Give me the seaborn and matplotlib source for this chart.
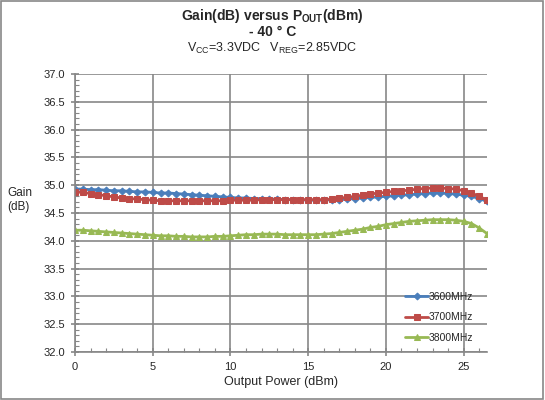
import numpy as np
import pandas as pd
import matplotlib
matplotlib.use("Agg")
import matplotlib.pyplot as plt
import seaborn as sns
from matplotlib.ticker import MultipleLocator

sns.set_theme(style="white")
plt.rcParams['font.family'] = ['Liberation Sans', 'DejaVu Sans']
plt.rcParams['mathtext.fontset'] = 'custom'
plt.rcParams['mathtext.rm'] = 'Liberation Sans'
plt.rcParams['mathtext.bf'] = 'Liberation Sans:bold'

pout = [i * 0.5 for i in range(54)]
gain_3600 = [34.93, 34.93, 34.92, 34.92, 34.91, 34.90, 34.90, 34.89, 34.88, 34.88,
             34.87, 34.86, 34.86, 34.85, 34.84, 34.83, 34.82, 34.81, 34.80, 34.79,
             34.78, 34.77, 34.77, 34.76, 34.76, 34.75, 34.75, 34.74, 34.74, 34.74,
             34.73, 34.73, 34.73, 34.74, 34.74, 34.75, 34.76, 34.77, 34.78, 34.79,
             34.80, 34.81, 34.82, 34.83, 34.84, 34.85, 34.86, 34.86, 34.85, 34.84,
             34.82, 34.80, 34.76, 34.71]
gain_3700 = [34.88, 34.87, 34.85, 34.83, 34.81, 34.79, 34.77, 34.76, 34.75, 34.74,
             34.73, 34.72, 34.72, 34.72, 34.72, 34.72, 34.72, 34.72, 34.72, 34.72,
             34.73, 34.73, 34.73, 34.73, 34.74, 34.74, 34.74, 34.74, 34.74, 34.74,
             34.74, 34.74, 34.74, 34.75, 34.77, 34.78, 34.80, 34.82, 34.84, 34.86,
             34.87, 34.89, 34.90, 34.91, 34.93, 34.94, 34.95, 34.95, 34.94, 34.93,
             34.90, 34.86, 34.80, 34.73]
gain_3800 = [34.19, 34.19, 34.18, 34.17, 34.16, 34.15, 34.14, 34.13, 34.12, 34.11,
             34.10, 34.09, 34.09, 34.08, 34.08, 34.07, 34.07, 34.07, 34.08, 34.08,
             34.09, 34.10, 34.11, 34.11, 34.12, 34.12, 34.12, 34.11, 34.11, 34.11,
             34.11, 34.11, 34.12, 34.13, 34.15, 34.17, 34.19, 34.21, 34.24, 34.26,
             34.29, 34.31, 34.33, 34.35, 34.36, 34.37, 34.38, 34.38, 34.38, 34.37,
             34.35, 34.31, 34.23, 34.13]
series_names = ["3600MHz", "3700MHz", "3800MHz"]
colors = ["#4a7ebb", "#be4b48", "#98b954"]
markers = ["D", "s", "^"]
msizes = [3.5, 5, 5]

fig = plt.figure(figsize=(5.45, 4.0), dpi=100)
ax = fig.add_axes([75/545, 1-352/400, (487-75)/545, (352-74)/400])

for name, vals, c, m, ms in zip(series_names, [gain_3600, gain_3700, gain_3800], colors, markers, msizes):
    df = pd.DataFrame({"x": pout, "y": vals})
    sns.lineplot(data=df, x="x", y="y", ax=ax, color=c, marker=m, markersize=ms,
                 markeredgecolor=c, linewidth=2, label=name)

ax.set_xlim(0, 26.5)
ax.set_ylim(32.0, 37.0)
ax.xaxis.set_major_locator(MultipleLocator(5))
ax.xaxis.set_minor_locator(MultipleLocator(1))
ax.yaxis.set_major_locator(MultipleLocator(0.5))
ax.yaxis.set_minor_locator(MultipleLocator(0.1))
ax.set_yticklabels([f"{v:.1f}" for v in ax.get_yticks()])
ax.grid(True, which="major", color="#878787", linewidth=1.2)
for s in ["top", "right"]:
    ax.spines[s].set_visible(False)
for s in ["left", "bottom"]:
    ax.spines[s].set_color("#878787")
    ax.spines[s].set_linewidth(1.2)
ax.tick_params(axis="both", which="major", direction="inout", length=6, width=1.2,
               color="#878787", labelsize=8, pad=4, left=True, bottom=True)
ax.tick_params(axis="both", which="minor", direction="in", length=3, width=0.8,
               color="#878787", left=True, bottom=True)
ax.set_xlabel("Output Power (dBm)", fontsize=9, labelpad=3)
ax.set_ylabel("")
fig.text(7/545, 1-200/400, "Gain\n(dB)", fontsize=8.5, ha="left", va="center", linespacing=1.3)

leg = ax.legend(loc="lower right", bbox_to_anchor=(0.99, 0.0), frameon=False, fontsize=7.5,
                handlelength=2.2, handletextpad=0.1, labelspacing=1.0)

fig.text(0.5, 1-16/400, r"Gain(dB) versus P$_\mathbf{OUT}$(dBm)", ha="center", va="center",
         fontsize=10, fontweight="bold")
fig.text(0.5, 1-32/400, "- 40 \u00b0 C", ha="center", va="center", fontsize=10, fontweight="bold")
fig.text(0.5, 1-48/400, r"V$_\mathrm{CC}$=3.3VDC   V$_\mathrm{REG}$=2.85VDC", ha="center", va="center",
         fontsize=9)

border = plt.Rectangle((0.002, 0.003), 0.994, 0.994, transform=fig.transFigure, fill=False,
                       edgecolor="#888888", linewidth=1.2)
fig.patches.append(border)

fig.savefig("out.png", dpi=100)
